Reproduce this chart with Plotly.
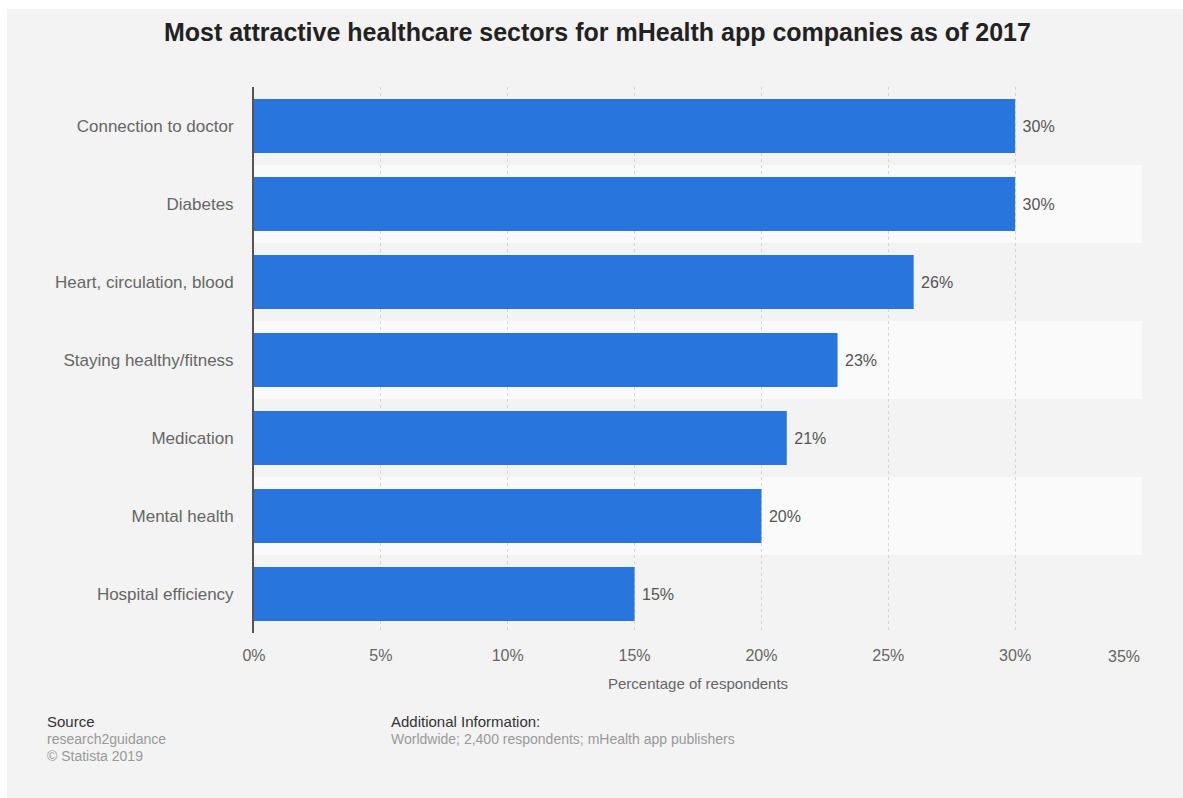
import plotly.graph_objects as go

categories = ["Connection to doctor", "Diabetes", "Heart, circulation, blood",
              "Staying healthy/fitness", "Medication", "Mental health", "Hospital efficiency"]
values = [30, 30, 26, 23, 21, 20, 15]
x_ticks = [0, 5, 10, 15, 20, 25, 30, 35]

W, H = 1183, 798
L, R, T, B = 254, 1142, 87, 633
PW, PH = R - L, B - T

def px(xp):
    return (xp - L) / PW

def py(yp):
    return (B - yp) / PH

FONT = "Liberation Sans, Arial, sans-serif"

fig = go.Figure(go.Bar(
    x=values, y=categories, orientation="h",
    marker=dict(color="#2876dd", line=dict(width=0)),
    width=0.69,
    text=[f" {v}%" for v in values], textposition="outside",
    textfont=dict(family=FONT, size=16, color="#555555"),
    cliponaxis=False,
    hoverinfo="x+y",
))

shapes = [
    dict(type="rect", xref="paper", yref="paper", x0=px(-10), x1=px(W + 10),
         y0=py(9), y1=py(-10), fillcolor="#ffffff", line=dict(width=0), layer="below"),
    dict(type="rect", xref="paper", yref="paper", x0=px(-10), x1=px(7),
         y0=py(H + 10), y1=py(-10), fillcolor="#ffffff", line=dict(width=0), layer="below"),
]
for i in range(len(categories)):
    if i % 2 == 1:
        shapes.append(dict(type="rect", xref="paper", yref="y", x0=0, x1=1,
                           y0=i - 0.5, y1=i + 0.5, fillcolor="#fafafa",
                           line=dict(width=0), layer="below"))

annotations = [
    dict(text="Percentage of respondents", xref="paper", yref="paper", x=0.5, y=py(683),
         showarrow=False, font=dict(family=FONT, size=15, color="#666666"), yanchor="middle"),
    dict(text="Source", xref="paper", yref="paper", x=px(45), y=py(721), xanchor="left",
         yanchor="middle", showarrow=False, font=dict(family=FONT, size=15, color="#333333")),
    dict(text="research2guidance", xref="paper", yref="paper", x=px(45), y=py(739), xanchor="left",
         yanchor="middle", showarrow=False, font=dict(family=FONT, size=14, color="#999999")),
    dict(text="© Statista 2019", xref="paper", yref="paper", x=px(45), y=py(756), xanchor="left",
         yanchor="middle", showarrow=False, font=dict(family=FONT, size=14, color="#999999")),
    dict(text="Additional Information:", xref="paper", yref="paper", x=px(389), y=py(721),
         xanchor="left", yanchor="middle", showarrow=False,
         font=dict(family=FONT, size=15, color="#333333")),
    dict(text="Worldwide; 2,400 respondents; mHealth app publishers", xref="paper", yref="paper",
         x=px(389), y=py(739), xanchor="left", yanchor="middle", showarrow=False,
         font=dict(family=FONT, size=14, color="#999999")),
    dict(text=f"{x_ticks[-1]}%", xref="x", yref="paper", x=x_ticks[-1], y=py(656),
         xanchor="right", yanchor="middle", showarrow=False,
         font=dict(family=FONT, size=16, color="#666666")),
]

fig.update_layout(
    width=W, height=H,
    margin=dict(l=L, r=W - R, t=T, b=H - B, pad=0),
    paper_bgcolor="#f3f3f3",
    plot_bgcolor="rgba(0,0,0,0)",
    title=dict(text="<b>Most attractive healthcare sectors for mHealth app companies as of 2017</b>",
               x=0.505, xanchor="center", y=1 - 32 / H, yanchor="middle",
               font=dict(family=FONT, size=25, color="#222222")),
    showlegend=False,
    shapes=shapes,
    annotations=annotations,
    bargap=0.31,
)
fig.update_xaxes(
    range=[0, 35], tickvals=x_ticks,
    ticktext=[f"{t}%" for t in x_ticks[:-1]] + [""],
    showgrid=True, gridcolor="#d4d4d4", griddash="dot", gridwidth=1,
    zeroline=False, showline=False, ticks="", ticklabelstandoff=11,
    tickfont=dict(family=FONT, size=16, color="#666666"),
    fixedrange=True,
)
fig.update_yaxes(
    categoryorder="array", categoryarray=categories, autorange="reversed",
    showgrid=False, zeroline=False, showline=True, linecolor="#555555", linewidth=2,
    ticks="", ticklabelstandoff=15,
    tickfont=dict(family=FONT, size=17, color="#666666"),
    fixedrange=True,
)

fig.write_html(
    "out.html",
    post_script=(
        "document.documentElement.style.background='#f3f3f3';"
        "document.documentElement.style.overflow='hidden';"
        "document.body.style.margin='0';"
        "document.body.style.background='#f3f3f3';"
    ),
)
